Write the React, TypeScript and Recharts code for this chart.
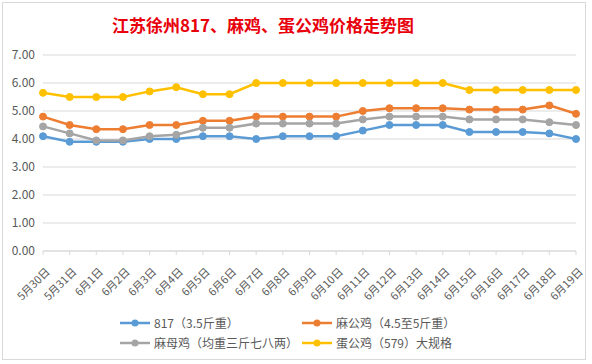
import React from 'react';
import { LineChart, Line, XAxis, YAxis, CartesianGrid } from 'recharts';

const dates = ['5月30日', '5月31日', '6月1日', '6月2日', '6月3日', '6月4日', '6月5日', '6月6日', '6月7日', '6月8日', '6月9日',
    '6月10日', '6月11日', '6月12日', '6月13日', '6月14日', '6月15日', '6月16日', '6月17日', '6月18日', '6月19日'];

const broiler817 = [4.1, 3.9, 3.9, 3.9, 4.0, 4.0, 4.1, 4.1, 4.0, 4.1, 4.1, 4.1, 4.3, 4.5, 4.5, 4.5, 4.25, 4.25, 4.25, 4.2, 4.0];
const maRooster = [4.8, 4.5, 4.35, 4.35, 4.5, 4.5, 4.65, 4.65, 4.8, 4.8, 4.8, 4.8, 5.0, 5.1, 5.1, 5.1, 5.05, 5.05, 5.05, 5.2, 4.9];
const maHen = [4.45, 4.2, 3.95, 3.95, 4.1, 4.15, 4.4, 4.4, 4.55, 4.55, 4.55, 4.55, 4.7, 4.8, 4.8, 4.8, 4.7, 4.7, 4.7, 4.6, 4.5];
const eggRooster = [5.65, 5.5, 5.5, 5.5, 5.7, 5.85, 5.6, 5.6, 6.0, 6.0, 6.0, 6.0, 6.0, 6.0, 6.0, 6.0, 5.75, 5.75, 5.75, 5.75, 5.75];

const yTicks = [0, 1, 2, 3, 4, 5, 6, 7];

const SERIES = [
    { key: 's817', name: '817（3.5斤重）', color: '#5B9BD5', values: broiler817 },
    { key: 'maRooster', name: '麻公鸡（4.5至5斤重）', color: '#ED7D31', values: maRooster },
    { key: 'maHen', name: '麻母鸡（均重三斤七八两）', color: '#A5A5A5', values: maHen },
    { key: 'eggRooster', name: '蛋公鸡（579）大规格', color: '#FFC000', values: eggRooster },
];

const data = dates.map((d, i) => {
    const row: Record<string, string | number> = { date: d };
    SERIES.forEach(s => { row[s.key] = s.values[i]; });
    return row;
});

const FONT = '"Noto Sans CJK SC", "Noto Sans", sans-serif';

function DateTick({ x, y, payload }: any) {
    const ax = x + 4, ay = y + 12;
    return (
        <text x={ax} y={ay} transform={`rotate(-45 ${ax} ${ay})`} textAnchor="end" dominantBaseline="central"
            fontSize={11} fill="#595959" fontFamily={FONT}>
            {payload.value}
        </text>
    );
}

function LegendBox() {
    return (
        <div style={{ position: 'absolute', left: 116, top: 311, display: 'grid', gridTemplateColumns: '182px 200px', rowGap: 3, fontFamily: FONT, fontSize: 12, color: '#595959' }}>
            {SERIES.map(s => (
                <div key={s.key} style={{ display: 'flex', alignItems: 'center', whiteSpace: 'nowrap', height: 17 }}>
                    <svg width={32} height={10} style={{ marginRight: 3 }}>
                        <line x1={1} y1={5} x2={31} y2={5} stroke={s.color} strokeWidth={2.5} />
                        <circle cx={16} cy={5} r={3.5} fill={s.color} />
                    </svg>
                    <span>{s.name}</span>
                </div>
            ))}
        </div>
    );
}

export default function App() {
    return (
        <div style={{ position: 'absolute', left: 0, top: 0, width: 592, height: 364, background: '#fff' }}>
            <div style={{ position: 'absolute', left: 2, top: 2, width: 582, height: 356, border: '1px solid #d9d9d9', background: '#fff' }}>
                <div style={{ position: 'absolute', left: 0, width: 520, top: 9, textAlign: 'center', fontFamily: FONT, fontWeight: 700, fontSize: 17, color: '#E8000B' }}>
                    江苏徐州817、麻鸡、蛋公鸡价格走势图
                </div>
                <LineChart width={582} height={356} data={data} margin={{ top: 52, right: 9, bottom: 48, left: 0 }}>
                    <CartesianGrid vertical={false} stroke="#d9d9d9" />
                    <XAxis dataKey="date" interval={0} tick={<DateTick />} height={60} stroke="#d9d9d9" tickSize={4} />
                    <YAxis domain={[0, 7]} ticks={yTicks} width={40} axisLine={false} tickLine={false}
                        tickFormatter={(v: number) => v.toFixed(2)}
                        tick={{ fontSize: 12, fill: '#595959', fontFamily: FONT }} />
                    {SERIES.map(s => (
                        <Line key={s.key} dataKey={s.key} name={s.name} stroke={s.color} strokeWidth={2.5}
                            dot={{ r: 3.5, fill: s.color, stroke: s.color, strokeWidth: 1 }} isAnimationActive={false} />
                    ))}
                </LineChart>
                <LegendBox />
            </div>
        </div>
    );
}
